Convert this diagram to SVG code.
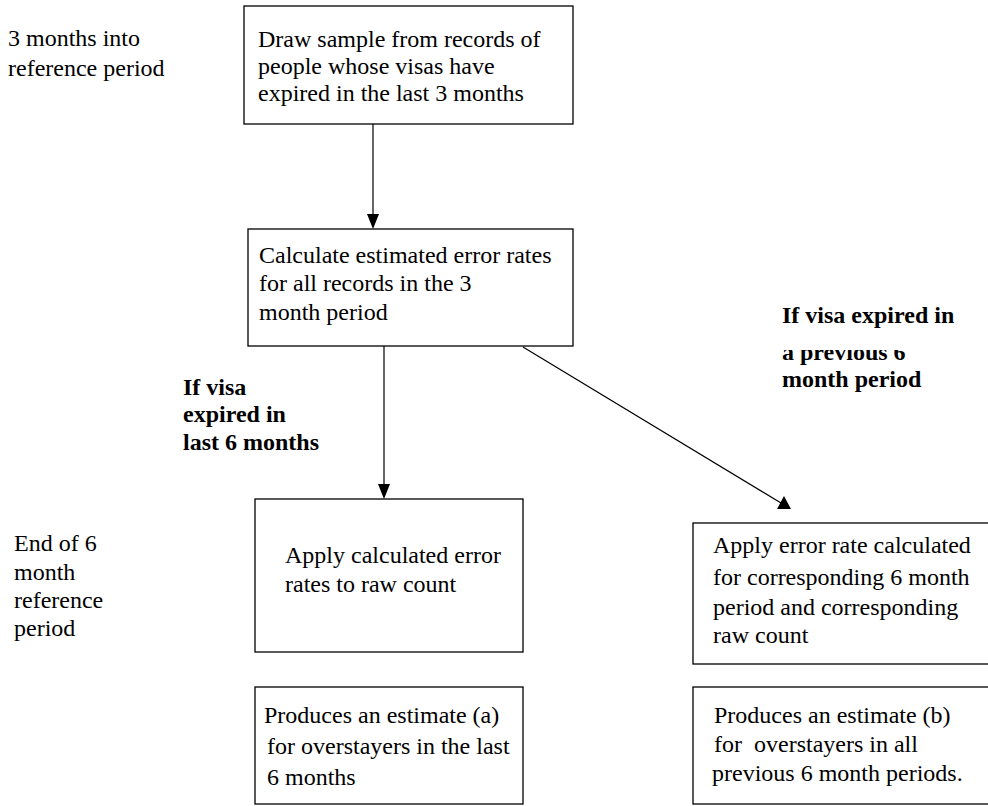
<svg xmlns="http://www.w3.org/2000/svg" width="988" height="806" viewBox="0 0 988 806">
  <style>
    .box { fill: #fff; stroke: #000; stroke-width: 1.3; }
    .t { font-family: "Liberation Serif", "Times New Roman", serif; font-size: 24px; fill: #000; white-space: pre; }
    .b { font-weight: bold; }
    .line { stroke: #000; stroke-width: 1.2; fill: none; }
    .head { fill: #000; }
  </style>
  <defs>
    <clipPath id="cutTop">
      <rect x="770" y="350" width="218" height="40"/>
    </clipPath>
  </defs>
  <rect width="988" height="806" fill="#fff"/>

  <g font-family="Liberation Serif, Times New Roman, serif">
  <!-- timeline labels on the left -->
  <g id="label-3-months">
    <text class="t" x="8" y="46">3 months into</text>
    <text class="t" x="8" y="76">reference period</text>
  </g>
  <g id="label-end-6-months">
    <text class="t" x="14" y="551">End of 6</text>
    <text class="t" x="14" y="580">month</text>
    <text class="t" x="14" y="608">reference</text>
    <text class="t" x="14" y="636">period</text>
  </g>

  <!-- process steps -->
  <g id="draw-sample">
    <rect class="box" x="244" y="6" width="329" height="118"/>
    <text class="t" x="258" y="47">Draw sample from records of</text>
    <text class="t" x="258" y="74">people whose visas have</text>
    <text class="t" x="258" y="101">expired in the last 3 months</text>
  </g>
  <g id="calculate-rates">
    <rect class="box" x="248" y="229" width="325" height="117"/>
    <text class="t" x="259" y="263">Calculate estimated error rates</text>
    <text class="t" x="259" y="291">for all records in the 3</text>
    <text class="t" x="259" y="320">month period</text>
  </g>
  <g id="apply-rates">
    <rect class="box" x="255" y="499" width="268" height="153"/>
    <text class="t" x="285" y="563">Apply calculated error</text>
    <text class="t" x="285" y="592">rates to raw count</text>
  </g>
  <g id="estimate-a">
    <rect class="box" x="255" y="687" width="268" height="117"/>
    <text class="t" x="264" y="723">Produces an estimate (a)</text>
    <text class="t" x="267" y="754">for overstayers in the last</text>
    <text class="t" x="267" y="785">6 months</text>
  </g>
  <g id="apply-previous-rate">
    <rect class="box" x="693" y="523" width="300" height="141"/>
    <text class="t" x="713" y="553">Apply error rate calculated</text>
    <text class="t" x="713" y="585">for corresponding 6 month</text>
    <text class="t" x="713" y="615">period and corresponding</text>
    <text class="t" x="713" y="643">raw count</text>
  </g>
  <g id="estimate-b">
    <rect class="box" x="693" y="687" width="300" height="117"/>
    <text class="t" x="714" y="723">Produces an estimate (b)</text>
    <text class="t" x="714" y="752">for  overstayers in all</text>
    <text class="t" x="712" y="781">previous 6 month periods.</text>
  </g>

  <!-- branch conditions -->
  <g id="cond-last-6">
    <text class="t b" x="183" y="395">If visa</text>
    <text class="t b" x="183" y="422">expired in</text>
    <text class="t b" x="183" y="450">last 6 months</text>
  </g>
  <g id="cond-previous-6">
    <text class="t b" x="782" y="323">If visa expired in</text>
    <text class="t b" x="782" y="360" clip-path="url(#cutTop)">a previous 6</text>
    <text class="t b" x="782" y="387">month period</text>
  </g>
  </g>

  <!-- connectors -->
  <g id="connectors">
    <line class="line" x1="373" y1="124" x2="373" y2="216"/>
    <polygon class="head" points="367,214 379,214 373,229"/>
    <line class="line" x1="384" y1="346" x2="384" y2="486"/>
    <polygon class="head" points="378,484 390,484 384,499"/>
    <line class="line" x1="523" y1="347" x2="781" y2="503"/>
    <polygon class="head" points="784,496 777,509 791,509"/>
  </g>
</svg>
